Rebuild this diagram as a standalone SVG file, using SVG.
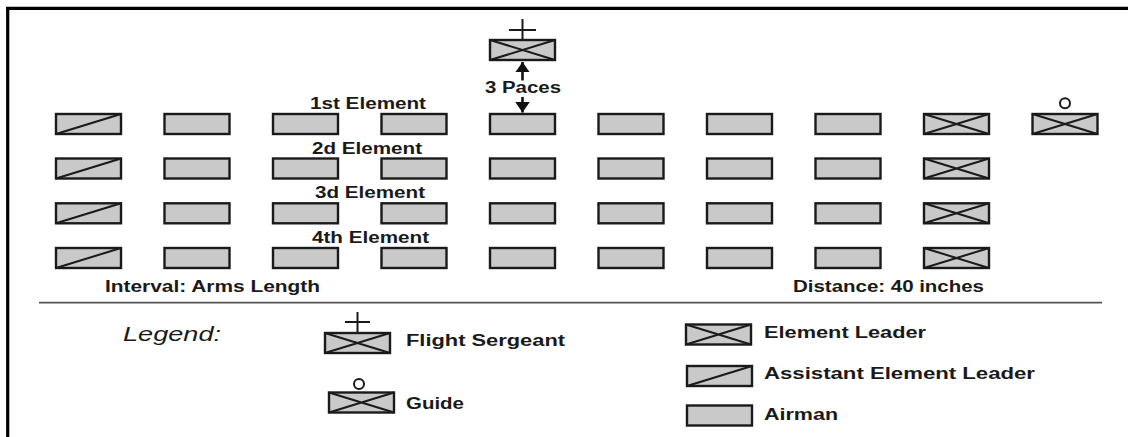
<svg xmlns="http://www.w3.org/2000/svg" xmlns:xlink="http://www.w3.org/1999/xlink" width="1128" height="437" viewBox="0 0 1128 437">
<style>
.box{fill:#c9c9c9;stroke:#1a1a1a;stroke-width:2.4}
.mk{fill:none;stroke:#1a1a1a;stroke-width:2}
.t{font-family:"Liberation Sans",Arial,sans-serif;font-weight:bold;font-size:16px;fill:#1a1a1a}
.lg{font-family:"Liberation Sans",Arial,sans-serif;font-style:italic;font-size:20px;fill:#1a1a1a}
.sym{fill:none;stroke:#1a1a1a;stroke-width:2}
.conn{stroke:#111;stroke-width:2.6;fill:none}
</style>
<defs>
<g id="airman"><rect x="0" y="0" width="65" height="20" class="box"/></g>
<g id="leader"><rect x="0" y="0" width="65" height="20" class="box"/><path d="M0,0 L65,20 M0,20 L65,0" class="mk"/></g>
<g id="asst"><rect x="0" y="0" width="65" height="20" class="box"/><path d="M0,20 L65,0" class="mk"/></g>
<marker id="ah" viewBox="0 0 10 14" refX="10" refY="7" markerWidth="4" markerHeight="5.6" orient="auto" markerUnits="strokeWidth"><path d="M0,0 L10,7 L0,14 Z" fill="#111"/></marker>
</defs>
<rect width="1128" height="437" fill="#fff"/>
<g id="frame">
<line x1="6" y1="8.3" x2="1128" y2="8.3" stroke="#000" stroke-width="3.2"/>
<line x1="7.7" y1="7" x2="7.7" y2="437" stroke="#000" stroke-width="3.2"/>
<line x1="39" y1="302.7" x2="1102" y2="302.7" stroke="#555" stroke-width="1.8"/>
</g>
<g id="flight-sergeant">
<use xlink:href="#leader" href="#leader" x="490" y="40"/>
<path d="M522.5,19 V40 M509,30 H536" class="sym"/>
</g>
<g id="connectors">
<line x1="522.5" y1="80.5" x2="522.5" y2="62" class="conn" marker-end="url(#ah)"/>
<line x1="522.5" y1="97" x2="522.5" y2="112.5" class="conn" marker-end="url(#ah)"/>
</g>
<g id="labels">
<text class="t" x="485" y="93" textLength="76" lengthAdjust="spacingAndGlyphs">3 Paces</text>
<text class="t" x="310" y="109" textLength="116" lengthAdjust="spacingAndGlyphs">1st Element</text>
<text class="t" x="312" y="153.5" textLength="110" lengthAdjust="spacingAndGlyphs">2d Element</text>
<text class="t" x="315" y="198" textLength="110" lengthAdjust="spacingAndGlyphs">3d Element</text>
<text class="t" x="312" y="243" textLength="117" lengthAdjust="spacingAndGlyphs">4th Element</text>
<text class="t" x="105" y="292" textLength="215" lengthAdjust="spacingAndGlyphs">Interval: Arms Length</text>
<text class="t" x="793" y="292" textLength="191" lengthAdjust="spacingAndGlyphs">Distance: 40 inches</text>
</g>
<g id="row1">
<g id="r1c1"><use xlink:href="#asst" href="#asst" x="56" y="114"/></g>
<g id="r1c2"><use xlink:href="#airman" href="#airman" x="164.5" y="114"/></g>
<g id="r1c3"><use xlink:href="#airman" href="#airman" x="273" y="114"/></g>
<g id="r1c4"><use xlink:href="#airman" href="#airman" x="381.5" y="114"/></g>
<g id="r1c5"><use xlink:href="#airman" href="#airman" x="490" y="114"/></g>
<g id="r1c6"><use xlink:href="#airman" href="#airman" x="598.5" y="114"/></g>
<g id="r1c7"><use xlink:href="#airman" href="#airman" x="707" y="114"/></g>
<g id="r1c8"><use xlink:href="#airman" href="#airman" x="815.5" y="114"/></g>
<g id="r1c9"><use xlink:href="#leader" href="#leader" x="924" y="114"/></g>
<g id="guide"><use xlink:href="#leader" href="#leader" x="1032.5" y="114"/><circle cx="1065" cy="103.3" r="5" class="sym"/></g>
</g>
<g id="row2">
<g id="r2c1"><use xlink:href="#asst" href="#asst" x="56" y="158.5"/></g>
<g id="r2c2"><use xlink:href="#airman" href="#airman" x="164.5" y="158.5"/></g>
<g id="r2c3"><use xlink:href="#airman" href="#airman" x="273" y="158.5"/></g>
<g id="r2c4"><use xlink:href="#airman" href="#airman" x="381.5" y="158.5"/></g>
<g id="r2c5"><use xlink:href="#airman" href="#airman" x="490" y="158.5"/></g>
<g id="r2c6"><use xlink:href="#airman" href="#airman" x="598.5" y="158.5"/></g>
<g id="r2c7"><use xlink:href="#airman" href="#airman" x="707" y="158.5"/></g>
<g id="r2c8"><use xlink:href="#airman" href="#airman" x="815.5" y="158.5"/></g>
<g id="r2c9"><use xlink:href="#leader" href="#leader" x="924" y="158.5"/></g>
</g>
<g id="row3">
<g id="r3c1"><use xlink:href="#asst" href="#asst" x="56" y="203.3"/></g>
<g id="r3c2"><use xlink:href="#airman" href="#airman" x="164.5" y="203.3"/></g>
<g id="r3c3"><use xlink:href="#airman" href="#airman" x="273" y="203.3"/></g>
<g id="r3c4"><use xlink:href="#airman" href="#airman" x="381.5" y="203.3"/></g>
<g id="r3c5"><use xlink:href="#airman" href="#airman" x="490" y="203.3"/></g>
<g id="r3c6"><use xlink:href="#airman" href="#airman" x="598.5" y="203.3"/></g>
<g id="r3c7"><use xlink:href="#airman" href="#airman" x="707" y="203.3"/></g>
<g id="r3c8"><use xlink:href="#airman" href="#airman" x="815.5" y="203.3"/></g>
<g id="r3c9"><use xlink:href="#leader" href="#leader" x="924" y="203.3"/></g>
</g>
<g id="row4">
<g id="r4c1"><use xlink:href="#asst" href="#asst" x="56" y="248"/></g>
<g id="r4c2"><use xlink:href="#airman" href="#airman" x="164.5" y="248"/></g>
<g id="r4c3"><use xlink:href="#airman" href="#airman" x="273" y="248"/></g>
<g id="r4c4"><use xlink:href="#airman" href="#airman" x="381.5" y="248"/></g>
<g id="r4c5"><use xlink:href="#airman" href="#airman" x="490" y="248"/></g>
<g id="r4c6"><use xlink:href="#airman" href="#airman" x="598.5" y="248"/></g>
<g id="r4c7"><use xlink:href="#airman" href="#airman" x="707" y="248"/></g>
<g id="r4c8"><use xlink:href="#airman" href="#airman" x="815.5" y="248"/></g>
<g id="r4c9"><use xlink:href="#leader" href="#leader" x="924" y="248"/></g>
</g>
<g id="legend">
<text class="lg" x="123" y="341" textLength="98" lengthAdjust="spacingAndGlyphs">Legend:</text>
<g id="legend-flight-sergeant">
<use xlink:href="#leader" href="#leader" x="325" y="333"/>
<path d="M357.5,312 V333 M345,322 H370" class="sym"/>
<text class="t" x="406" y="346" textLength="159" lengthAdjust="spacingAndGlyphs">Flight Sergeant</text>
</g>
<g id="legend-guide">
<use xlink:href="#leader" href="#leader" x="329" y="392.5"/>
<circle cx="359" cy="384" r="5" class="sym"/>
<text class="t" x="406" y="409" textLength="58" lengthAdjust="spacingAndGlyphs">Guide</text>
</g>
<g id="legend-element-leader">
<use xlink:href="#leader" href="#leader" x="686" y="324.5"/>
<text class="t" x="764" y="338" textLength="162" lengthAdjust="spacingAndGlyphs">Element Leader</text>
</g>
<g id="legend-assistant">
<use xlink:href="#asst" href="#asst" x="687" y="366"/>
<text class="t" x="764" y="379" textLength="271" lengthAdjust="spacingAndGlyphs">Assistant Element Leader</text>
</g>
<g id="legend-airman">
<use xlink:href="#airman" href="#airman" x="687" y="405.5"/>
<text class="t" x="764" y="420" textLength="74" lengthAdjust="spacingAndGlyphs">Airman</text>
</g>
</g>
</svg>
